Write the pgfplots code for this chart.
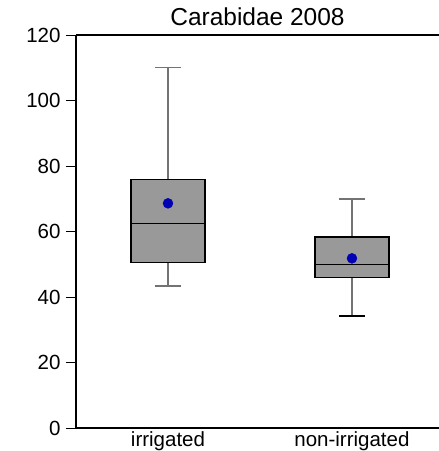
\documentclass[border=0pt]{standalone}
\usepackage{pgfplots}
\pgfplotsset{compat=1.18}
\usepackage{fontspec}
\setmainfont{Liberation Sans}
\definecolor{boxgray}{RGB}{153,153,153}
\definecolor{whisk}{RGB}{115,115,115}
\definecolor{meanblue}{RGB}{0,0,180}
\begin{document}
\begin{tikzpicture}
\begin{axis}[
    name=ax,
    scale only axis, width=363pt, height=393pt,
    xmin=0.5, xmax=2.473, ymin=0, ymax=120,
    axis x line*=bottom, axis y line*=left,
    axis line style={line width=1.5pt},
    xtick={1,2}, xticklabels={irrigated,non-irrigated},
    ytick={0,20,...,120},
    tick align=outside,
    major tick length=10pt,
    x tick style={draw=none},
    y tick style={line width=0.9pt, black},
    tick label style={font=\fontsize{20.5}{23}\selectfont},
    /pgf/number format/assume math mode=true,
    xticklabel style={yshift=10pt},
    yticklabel style={xshift=-2pt},
    clip=false,
  ]
  \draw[line width=1.2pt] (rel axis cs:0,1) -- (rel axis cs:1,1);
  \node[anchor=base, font=\fontsize{24.5}{28}\selectfont] at (rel axis cs:0.5,1) [yshift=10pt] {Carabidae 2008};

  % irrigated: whiskers
  \addplot[whisk, line width=1.3pt] coordinates {(1,75.9) (1,110)};
  \addplot[whisk, line width=1.3pt] coordinates {(0.93,110) (1.07,110)};
  \addplot[whisk, line width=1.3pt] coordinates {(1,50.5) (1,43.4)};
  \addplot[whisk, line width=1.3pt] coordinates {(0.93,43.4) (1.07,43.4)};
  % irrigated: box and median
  \addplot[fill=boxgray, draw=black, line width=1.6pt]
    coordinates {(0.8,50.5) (1.2,50.5) (1.2,75.9) (0.8,75.9)} -- cycle;
  \addplot[black, line width=1.5pt] coordinates {(0.8,62.5) (1.2,62.5)};

  % non-irrigated: whiskers
  \addplot[whisk, line width=1.3pt] coordinates {(2,58.4) (2,69.9)};
  \addplot[whisk, line width=1.3pt] coordinates {(1.93,69.9) (2.07,69.9)};
  \addplot[whisk, line width=1.3pt] coordinates {(2,45.9) (2,34.2)};
  \addplot[black, line width=1.3pt] coordinates {(1.93,34.2) (2.07,34.2)};
  % non-irrigated: box and median
  \addplot[fill=boxgray, draw=black, line width=1.6pt]
    coordinates {(1.8,45.9) (2.2,45.9) (2.2,58.4) (1.8,58.4)} -- cycle;
  \addplot[black, line width=1.5pt] coordinates {(1.8,50.0) (2.2,50.0)};

  % means
  \addplot[only marks, mark=*, mark size=5pt, meanblue]
    coordinates {(1,68.6) (2,51.8)};
\end{axis}
\pgfresetboundingbox
\path[use as bounding box] ([xshift=-76pt,yshift=-23pt]ax.south west) rectangle ++(439pt,451pt);
\end{tikzpicture}
\end{document}
